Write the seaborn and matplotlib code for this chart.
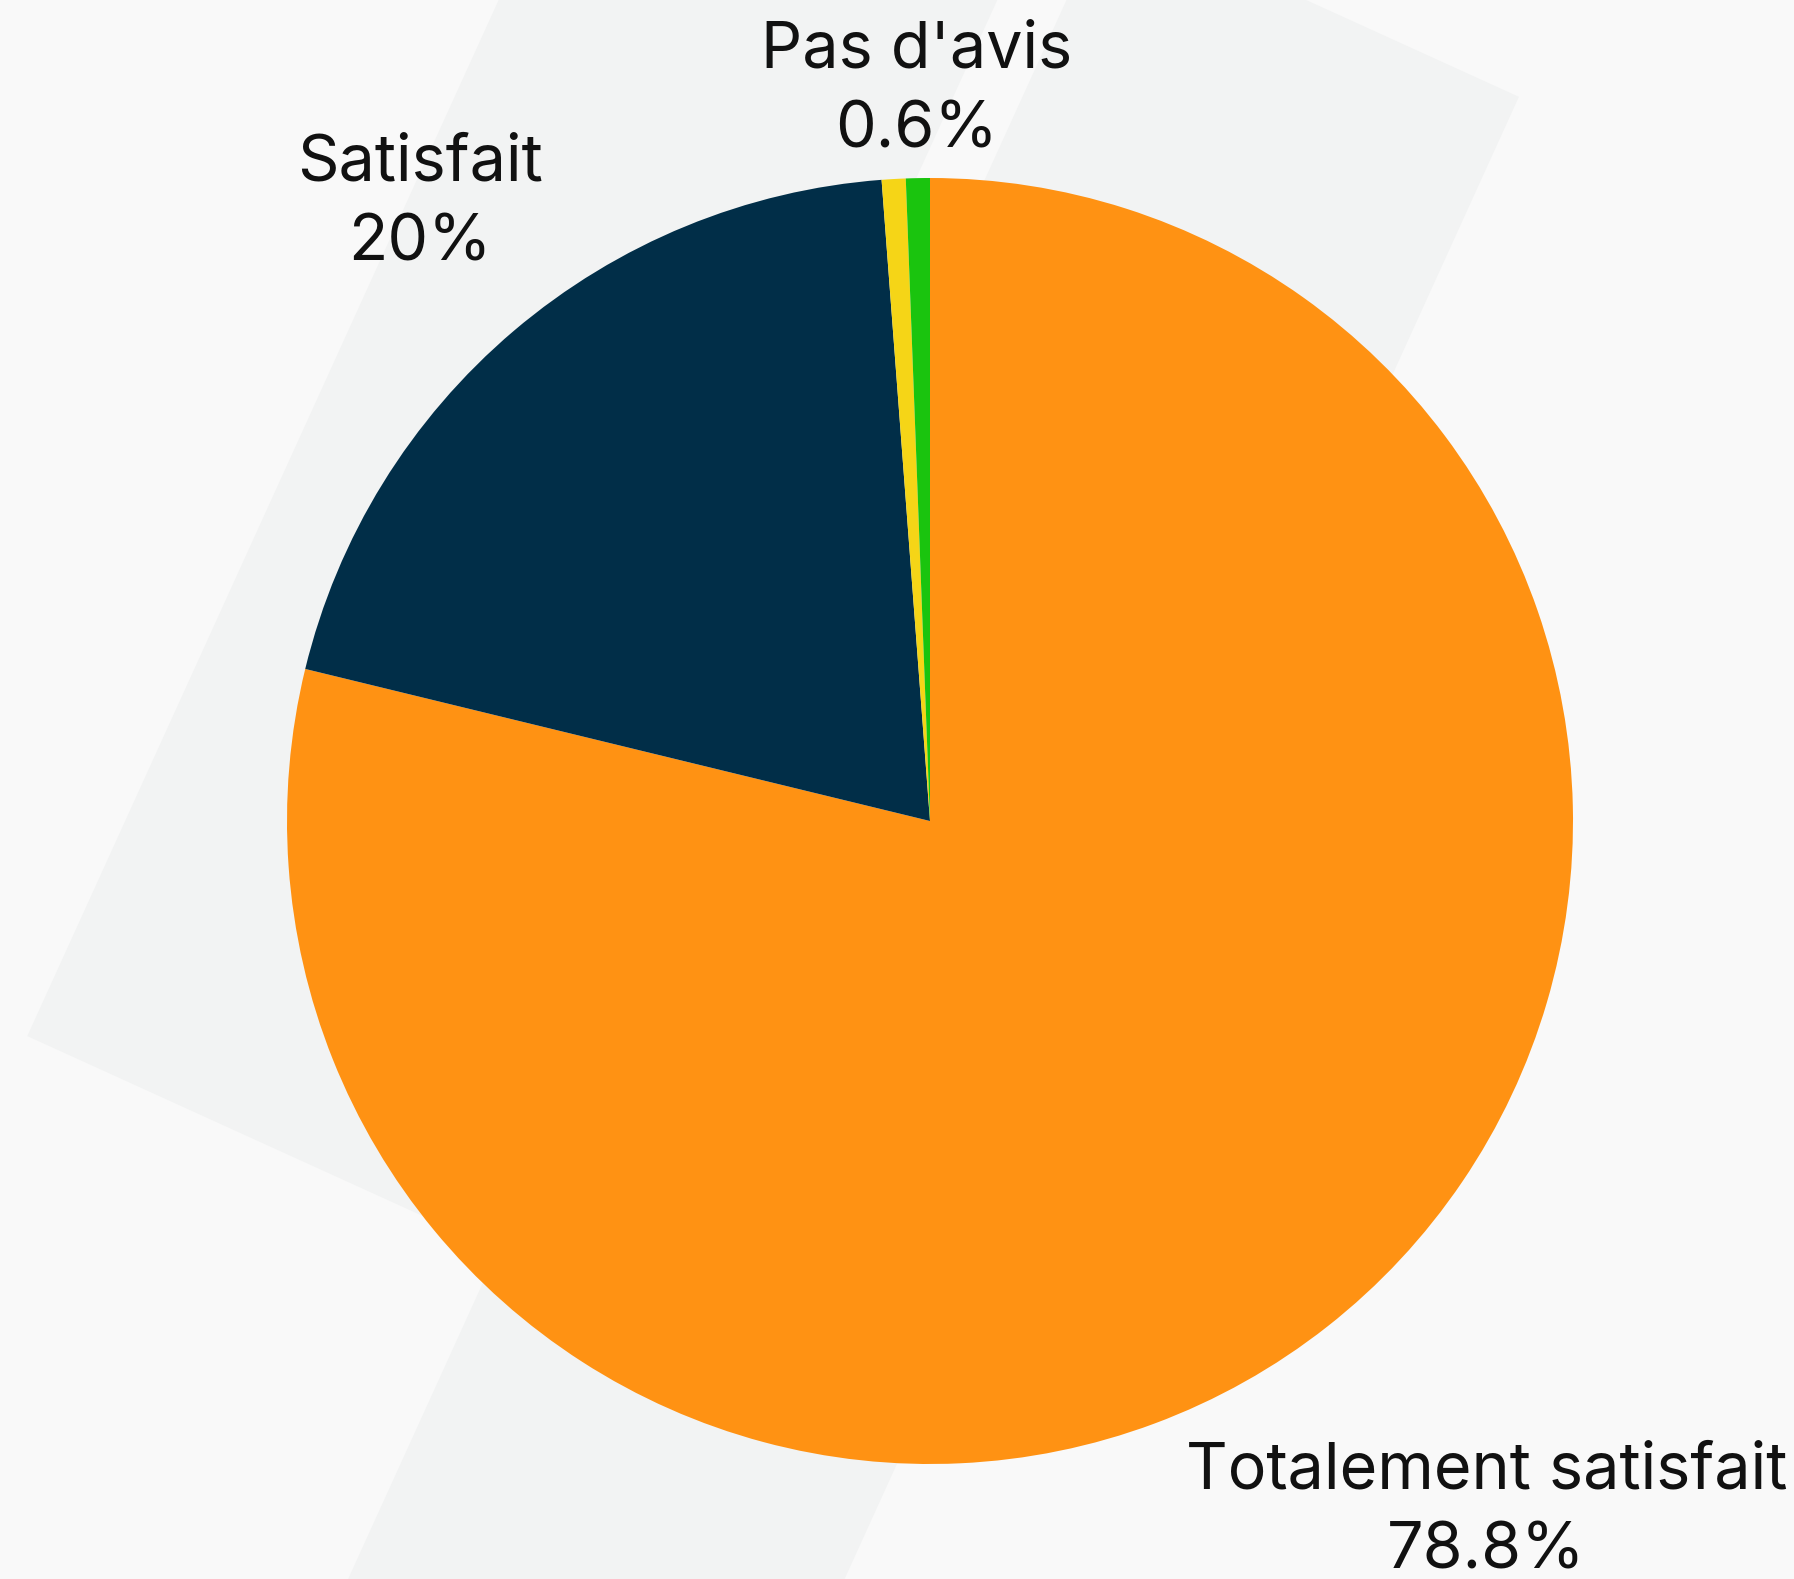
import numpy as np
import matplotlib
matplotlib.use("Agg")
import matplotlib.pyplot as plt
from matplotlib.patches import Polygon
import seaborn as sns

# ===========================
# Data
# ===========================
categories = ["Totalement satisfait", "Satisfait", "Peu satisfait", "Pas d'avis"]
values = [78.8, 20, 0.6, 0.6]
show_label = [True, True, False, True]
colors = sns.color_palette(["#FF9213", "#012E48", "#F5D517", "#1AC40E"])

# label distance from centre, in pie radii
label_dist = [1.40, 1.225, 1.11, 1.11]

sns.set_theme(style="white")
plt.rcParams['font.family'] = ['Inter', 'DejaVu Sans']

W, H = 1794, 1579
fig = plt.figure(figsize=(W / 100, H / 100), dpi=100)
fig.patch.set_facecolor("#F9F9F9")

# ===========================
# Background decoration (two slanted bands)
# ===========================
bg = fig.add_axes([0, 0, 1, 1])
bg.set_xlim(0, W)
bg.set_ylim(H, 0)
bg.axis("off")
bg.set_facecolor("none")

d = np.array([-0.414, 0.910])   # along the band
n = np.array([0.910, 0.414])    # across the band

def band(u0, u1, v0, v1):
    pts = [u0 * d + v0 * n, u0 * d + v1 * n, u1 * d + v1 * n, u1 * d + v0 * n]
    return Polygon(pts, closed=True, facecolor="#F2F3F3", edgecolor="none")

bg.add_patch(band(-900, 932, 454, 908))
bg.add_patch(band(-541, 2600, 971, 1423))

# ===========================
# Pie
# ===========================
cx, cy, r = 930, 821, 643
ax = fig.add_axes([0, 0, 1, 1])
ax.set_facecolor("none")
wedges, _ = ax.pie(values, colors=colors, startangle=90, counterclock=False,
                   radius=1, wedgeprops=dict(linewidth=0))
ax.set_xlim(-cx / r, (W - cx) / r)
ax.set_ylim((cy - H) / r, cy / r)
ax.axis("off")

gap = 80 / r / 2
for w, cat, val, show, dist in zip(wedges, categories, values, show_label, label_dist):
    if not show:
        continue
    ang = np.deg2rad((w.theta1 + w.theta2) / 2)
    x, y = dist * np.cos(ang), dist * np.sin(ang)
    ax.text(x, y + gap, cat, ha="center", va="baseline", fontsize=46.5, color="#111111")
    ax.text(x, y - gap, f"{val:g}%", ha="center", va="baseline", fontsize=46.5, color="#111111")

fig.savefig("out.png", dpi=100, facecolor=fig.get_facecolor())
